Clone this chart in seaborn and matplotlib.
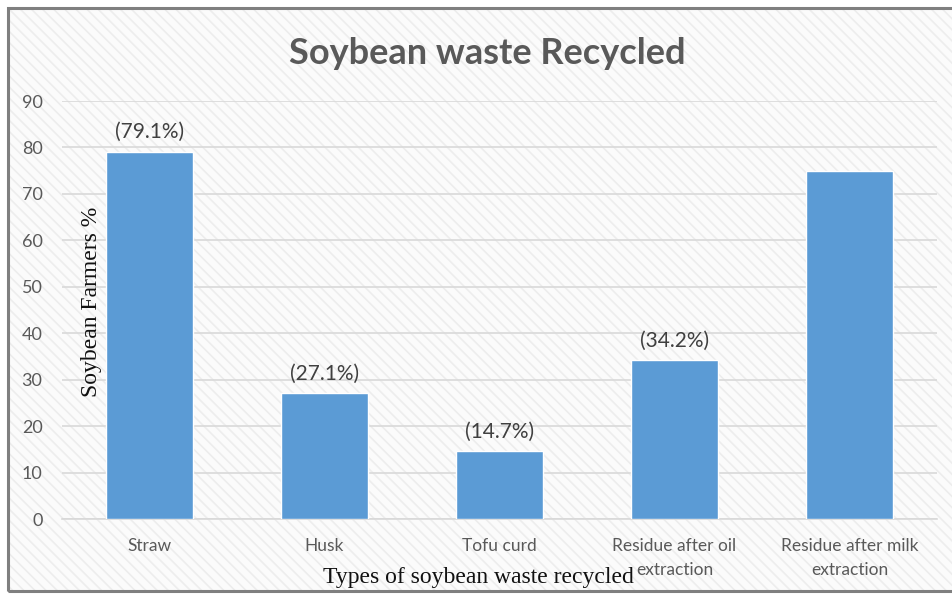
import matplotlib
matplotlib.use("Agg")
import matplotlib.pyplot as plt
from matplotlib.patches import Rectangle
import seaborn as sns
import pandas as pd

categories = ["Straw", "Husk", "Tofu curd", "Residue after oil\nextraction", "Residue after milk\nextraction"]
values = [79.1, 27.1, 14.7, 34.2, 75.0]
value_labels = ["(79.1%)", "(27.1%)", "(14.7%)", "(34.2%)", ""]
y_ticks = [0, 10, 20, 30, 40, 50, 60, 70, 80, 90]

sns.set_style("white")
plt.rcParams["font.family"] = ["Lato", "DejaVu Sans"]
plt.rcParams["hatch.linewidth"] = 1.2

df = pd.DataFrame({"category": categories, "value": values})

fig = plt.figure(figsize=(9.53, 5.95), dpi=100)
fig.patch.set_facecolor("white")

# light diagonal texture behind the chart, with a frame
bg = Rectangle((8 / 953, 4 / 595), 1.2, 583 / 595, transform=fig.transFigure,
               facecolor="#fbfbfb", edgecolor="#ededed", hatch="\\\\\\", linewidth=0, zorder=0)
fig.add_artist(bg)
frame = Rectangle((8 / 953, 4 / 595), 1.2, 583 / 595, transform=fig.transFigure,
                  facecolor="none", edgecolor="#7f7f7f", linewidth=2.2, zorder=1)
fig.add_artist(frame)

ax = fig.add_axes([62 / 953, 1 - 519 / 595, 875 / 953, 418 / 595])
ax.set_facecolor("none")

sns.barplot(data=df, x="category", y="value", color="#5b9bd5", saturation=1,
            width=0.5, ax=ax, zorder=3)

ax.set_ylim(0, 90)
ax.set_yticks(y_ticks)
ax.yaxis.grid(True, color="#d9d9d9", linewidth=1.2, zorder=0)
ax.set_axisbelow(True)
for s in ["top", "right", "left"]:
    ax.spines[s].set_visible(False)
ax.spines["bottom"].set_color("#d9d9d9")
ax.spines["bottom"].set_linewidth(1.2)

ax.tick_params(axis="y", length=0, pad=14, labelsize=13, labelcolor="#595959")
ax.tick_params(axis="x", length=0, pad=14, labelsize=12.5, labelcolor="#595959")
for lbl in ax.get_xticklabels():
    lbl.set_linespacing(1.55)

# value labels above bars
for i, (v, t) in enumerate(zip(values, value_labels)):
    if t:
        ax.text(i, v + 2.0, t, ha="center", va="bottom", fontsize=15, color="#404040")

ax.set_xlabel("")
ax.set_ylabel("")
fig.text(91 / 953, 1 - 302 / 595, "Soybean Farmers %", rotation=90, ha="center", va="center",
         fontsize=17, color="#111111", family=["Liberation Serif", "DejaVu Serif"])
fig.text(478 / 953, 1 - 577 / 595, "Types of soybean waste recycled", ha="center", va="center",
         fontsize=17, color="#111111", family=["Liberation Serif", "DejaVu Serif"])

fig.text(487 / 953, 1 - 53 / 595, "Soybean waste Recycled", ha="center", va="center",
         fontsize=26, fontweight="bold", color="#595959")

fig.savefig("out.png", dpi=100, facecolor=fig.get_facecolor())
